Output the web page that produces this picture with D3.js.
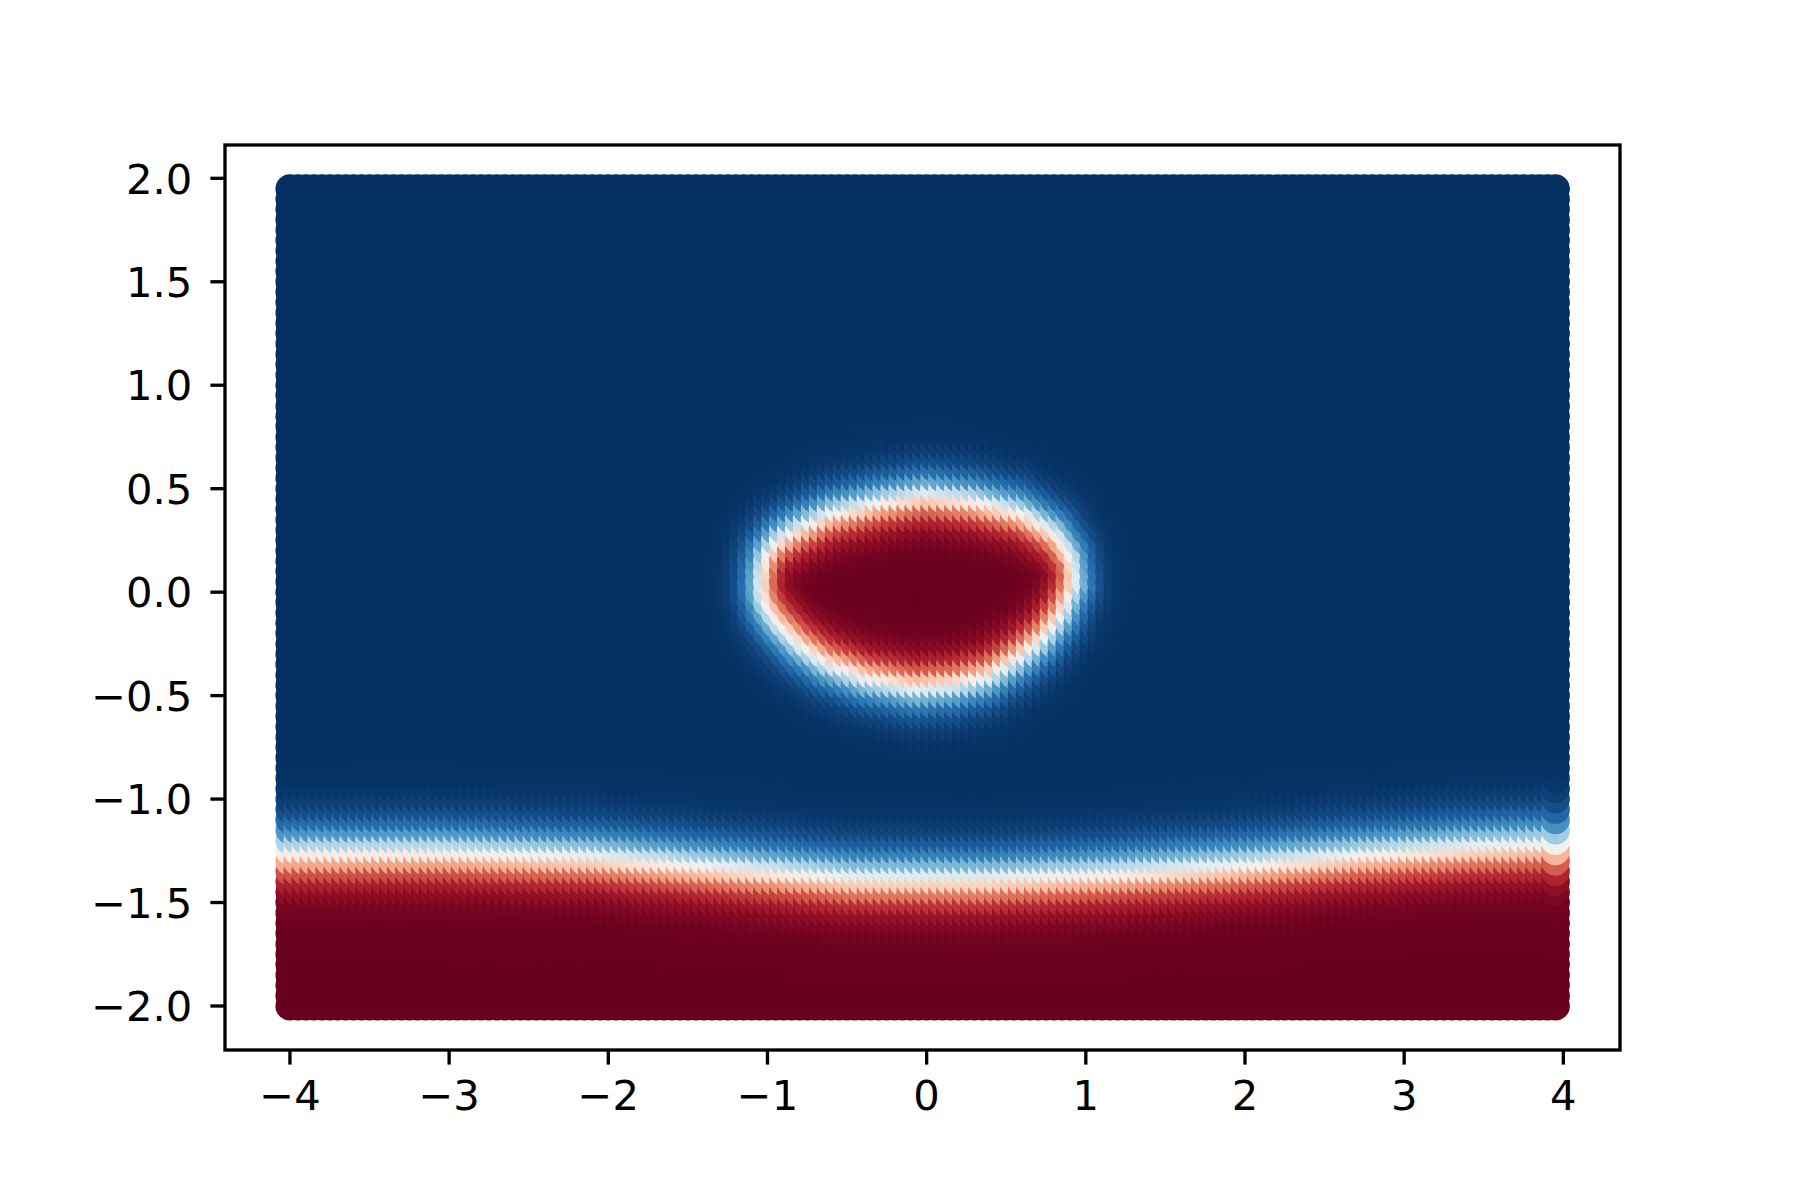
<!DOCTYPE html>
<html>
<head>
<meta charset="utf-8">
<script src="https://d3js.org/d3.v7.min.js"></script>
<style>
    body { margin: 0; background: #fff; }
    svg { display: block; }
    .tick-label { font-family: "DejaVu Sans", sans-serif; font-size: 41.7px; fill: #000; }
</style>
</head>
<body>
<div id="chart"></div>
<script>
// tick labels
var xTicks = [-4, -3, -2, -1, 0, 1, 2, 3, 4];
var yTicks = [2.0, 1.5, 1.0, 0.5, 0.0, -0.5, -1.0, -1.5, -2.0];

// sample grid (arange -4..4 and -2..2, step 0.05)
var gridX = d3.range(160).map(function (i) { return -4 + i * 0.05; });
var gridY = d3.range(80).map(function (i) { return -2 + i * 0.05; });

// lower decision boundary (where the colour turns white)
var lineX = [-4, -3, -2, -1.2, -0.4, 0.4, 1.2, 2, 2.75, 3.5, 4];
var lineY = [-1.245, -1.24, -1.265, -1.315, -1.365, -1.37, -1.345, -1.305, -1.255, -1.215, -1.2];

// the closed boundary of the red island in the middle
var ringX = [-0.98, -0.975, -0.95, -0.885, -0.77, -0.55, -0.222, 0.045, 0.337, 0.653, 0.871, 0.97,
             0.99, 0.911, 0.792, 0.644, 0.446, 0.228, -0.019, -0.326, -0.573, -0.741, -0.889, -0.955];
var ringY = [0.03, 0.12, 0.195, 0.26, 0.315, 0.395, 0.453, 0.485, 0.462, 0.402, 0.301, 0.182,
             0.063, -0.083, -0.202, -0.294, -0.386, -0.427, -0.441, -0.395, -0.321, -0.234, -0.12, -0.04];

// width of the soft transition across each boundary
var lineSoftness = 0.07;
var ringSoftness = 0.06;

var width = 1800, height = 1200;
var plot = { left: 225, right: 1620, top: 145, bottom: 1050 };

var svg = d3.select('#chart').append('svg')
    .attr('width', width)
    .attr('height', height);

var x = d3.scaleLinear().domain([-4.408, 4.356]).range([plot.left, plot.right]);
var y = d3.scaleLinear().domain([-2.2127, 2.161]).range([plot.bottom, plot.top]);

var lineAt = d3.scaleLinear().domain(lineX).range(lineY).clamp(true);
var ring = ringX.map(function (d, i) { return [d, ringY[i]]; });

// distance from point to segment
var segDist = function (px, py, a, b) {
    var dx = b[0] - a[0], dy = b[1] - a[1];
    var t = ((px - a[0]) * dx + (py - a[1]) * dy) / (dx * dx + dy * dy);
    t = Math.max(0, Math.min(1, t));
    var qx = a[0] + t * dx - px, qy = a[1] + t * dy - py;
    return Math.sqrt(qx * qx + qy * qy);
};

// signed distance to the island, negative inside
var ringDist = function (px, py) {
    var best = Infinity;
    for (var i = 0; i < ring.length; i++) {
        var dd = segDist(px, py, ring[i], ring[(i + 1) % ring.length]);
        if (dd < best) best = dd;
    }
    return d3.polygonContains(ring, [px, py]) ? -best : best;
};

// probability of the blue class for every grid point (x outer, y inner, like mgrid)
var points = [];
gridX.forEach(function (gx) {
    gridY.forEach(function (gy) {
        var d = Math.min((gy - lineAt(gx)) / lineSoftness, ringDist(gx, gy) / ringSoftness);
        points.push([gx, gy, 1 / (1 + Math.exp(-d))]);
    });
});

var color = d3.scaleSequential(d3.interpolateRdBu).domain([0, 1]);

svg.append('g')
    .selectAll('circle')
    .data(points)
    .enter()
    .append('circle')
    .attr('cx', function (d) { return x(d[0]); })
    .attr('cy', function (d) { return y(d[1]); })
    .attr('r', 14.5)
    .attr('fill', function (d) { return color(d[2]); });

// axes frame
svg.append('rect')
    .attr('x', plot.left)
    .attr('y', plot.top)
    .attr('width', plot.right - plot.left)
    .attr('height', plot.bottom - plot.top)
    .attr('fill', 'none')
    .attr('stroke', '#000')
    .attr('stroke-width', 3.33);

var fmtMinus = function (s) { return s.replace('-', '\u2212'); };

var xAxis = svg.append('g');
xAxis.selectAll('line')
    .data(xTicks)
    .enter()
    .append('line')
    .attr('x1', function (d) { return x(d); })
    .attr('x2', function (d) { return x(d); })
    .attr('y1', plot.bottom)
    .attr('y2', plot.bottom + 14.6)
    .attr('stroke', '#000')
    .attr('stroke-width', 3.33);
xAxis.selectAll('text')
    .data(xTicks)
    .enter()
    .append('text')
    .attr('class', 'tick-label')
    .attr('x', function (d) { return x(d); })
    .attr('y', plot.bottom + 14.6 + 14.6 + 30.4)
    .attr('text-anchor', 'middle')
    .text(function (d) { return fmtMinus(d3.format('d')(d)); });

var yAxis = svg.append('g');
yAxis.selectAll('line')
    .data(yTicks)
    .enter()
    .append('line')
    .attr('x1', plot.left - 14.6)
    .attr('x2', plot.left)
    .attr('y1', function (d) { return y(d); })
    .attr('y2', function (d) { return y(d); })
    .attr('stroke', '#000')
    .attr('stroke-width', 3.33);
yAxis.selectAll('text')
    .data(yTicks)
    .enter()
    .append('text')
    .attr('class', 'tick-label')
    .attr('x', plot.left - 14.6 - 18)
    .attr('y', function (d) { return y(d) + 15.2; })
    .attr('text-anchor', 'end')
    .text(function (d) { return fmtMinus(d3.format('.1f')(d)); });
</script>
</body>
</html>
